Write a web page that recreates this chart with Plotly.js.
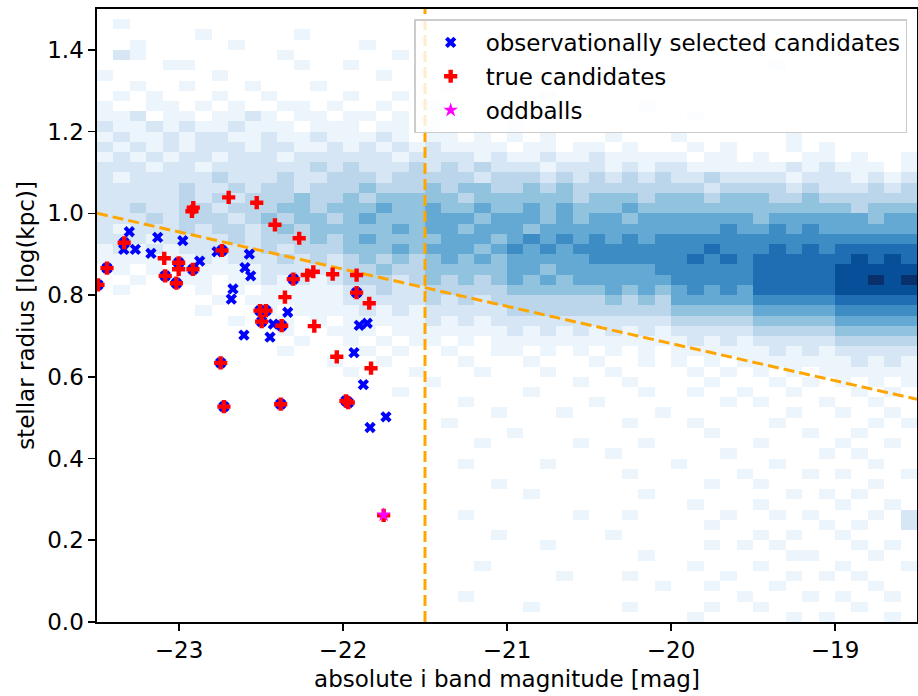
<!DOCTYPE html>
<html>
<head>
<meta charset="utf-8">
<script src="https://cdn.plot.ly/plotly-3.0.1.min.js"></script>
<style>html,body{margin:0;padding:0;background:#fff;}#chart{width:918px;height:696px;}</style>
</head>
<body>
<div id="chart"></div>
<script>
// ---- 2D histogram (galaxy population), bin centres ----
const magBins = [-23.45,-23.35,-23.25,-23.15,-23.05,-22.95,-22.85,-22.75,-22.65,-22.55,
  -22.45,-22.35,-22.25,-22.15,-22.05,-21.95,-21.85,-21.75,-21.65,-21.55,
  -21.45,-21.35,-21.25,-21.15,-21.05,-20.95,-20.85,-20.75,-20.65,-20.55,
  -20.45,-20.35,-20.25,-20.15,-20.05,-19.95,-19.85,-19.75,-19.65,-19.55,
  -19.45,-19.35,-19.25,-19.15,-19.05,-18.95,-18.85,-18.75,-18.65,-18.55];
// radius bin centres, top row first
const radiusBins = [1.4875,1.4625,1.4375,1.4125,1.3875,1.3625,1.3375,1.3125,1.2875,1.2625,
  1.2375,1.2125,1.1875,1.1625,1.1375,1.1125,1.0875,1.0625,1.0375,1.0125,
  0.9875,0.9625,0.9375,0.9125,0.8875,0.8625,0.8375,0.8125,0.7875,0.7625,
  0.7375,0.7125,0.6875,0.6625,0.6375,0.6125,0.5875,0.5625,0.5375,0.5125,
  0.4875,0.4625,0.4375,0.4125,0.3875,0.3625,0.3375,0.3125,0.2875,0.2625,
  0.2375,0.2125,0.1875,0.1625,0.1375,0.1125,0.0875,0.0625,0.0375,0.0125];
// density level per cell (0 = empty), one string per radius row, top row first
const densityRows = [
"00000 00000 00000 00000 00000 00000 00000 00000 00000 00000",
"01000 00000 00000 00000 00000 00000 00000 00000 00000 00000",
"00000 01000 00100 00000 00000 00000 00000 00000 00000 00000",
"00100 00010 00000 01000 00000 00000 00000 00000 00000 00000",
"02100 00000 01000 00010 00000 00000 00100 00000 00000 00000",
"00001 10000 00100 10000 00000 00000 00000 00000 01000 00000",
"10000 00100 00000 00100 00000 00000 00000 00000 00000 00000",
"00100 10001 00010 00000 01000 00000 00000 00000 00000 00000",
"01010 00100 10000 10010 00000 00100 00000 00000 00000 00000",
"10011 01010 01101 00100 10000 00000 00010 00000 00000 00000",
"11201 10112 10110 11010 01001 00000 00000 01000 00000 00000",
"21121 21121 11011 10110 10000 10000 00000 00000 00000 00000",
"12112 12211 21121 11210 11010 10100 01000 10000 00100 00000",
"21212 12221 22112 12121 21111 01101 10100 01010 00101 00000",
"12121 22122 21222 22212 22212 11211 21111 10110 10011 01001",
"22212 21222 22232 32223 23232 22122 21212 21111 11212 11101",
"21222 22322 23223 33233 33323 33232 32323 22322 22122 21212",
"22222 32232 33233 34333 43443 34343 33333 33233 33232 22323",
"22222 32323 33433 43444 44344 44443 44434 44344 43343 33333",
"22322 33233 34434 44544 54454 45454 44544 44444 44444 43444",
"22232 33323 43443 45444 55545 55454 55455 55555 45555 55455",
"21222 32332 34344 44454 55455 54555 55555 55565 56565 55555",
"22212 22232 33343 45444 45554 56565 65656 66666 66666 66666",
"12121 22222 32333 44454 55545 65656 66666 66766 67676 77777",
"11111 12122 23232 34343 45454 55555 66666 67676 77777 78787",
"01010 11111 22222 33433 44444 55455 55556 66666 77777 88888",
"00100 11011 21212 33323 43434 54545 55555 66666 77777 88989",
"01000 01010 11111 22322 33333 44444 45454 56565 77777 88888",
"00000 00101 11111 22222 32323 33333 34343 55555 66666 77777",
"00000 01000 10111 12121 22222 33333 33333 44444 55555 66666",
"00000 00010 01010 11111 21212 22222 22222 33333 44444 55555",
"00000 00000 01001 11011 11111 21212 12121 22222 33333 44444",
"00000 00000 00100 10101 10101 11111 11111 12121 22222 33333",
"00000 00000 01000 01010 01001 10101 01010 11111 12121 22222",
"00000 00000 00001 00100 00100 01000 10010 10101 11111 12121",
"00000 00000 00000 10001 00010 00100 01000 01010 10101 11111",
"00000 00000 00000 00000 10000 00001 00100 00100 01010 10101",
"00000 00000 00000 00010 00000 01000 00010 01001 00100 01010",
"00000 00000 00000 00000 00100 00000 10000 00010 10001 00100",
"00000 00000 00000 00000 00001 00010 00001 00000 00100 10010",
"00000 00000 00000 00000 01000 00000 00100 01000 01000 00101",
"00000 00000 00000 00000 00000 10000 00000 00100 00010 01000",
"00000 00000 00000 00000 00010 00001 00010 00000 10000 10010",
"00000 00000 00000 00000 00000 00000 01000 00010 00001 01000",
"00000 00000 00000 00000 00100 00100 00000 10000 01000 00100",
"00000 00000 00000 00000 00000 00000 00100 00001 00010 10001",
"00000 00000 00000 00000 00001 00000 00000 00100 10000 00100",
"00000 00000 00000 00000 00000 01000 00010 00000 00101 01000",
"00000 00000 00000 00000 00000 00000 00000 01000 10000 10010",
"00000 00000 00000 00000 00100 00001 00100 00010 01010 00102",
"00000 00000 00000 00000 00000 00000 00000 00100 00001 01002",
"00000 00000 00000 00000 00001 00000 01000 00000 10100 10000",
"00000 00000 00000 00000 00000 00100 00000 00101 01000 01010",
"00000 00000 00000 00000 00000 00000 00010 00000 00110 00100",
"00000 00000 00000 00000 00010 00000 00000 01000 10000 10001",
"00000 00000 00000 00000 00000 00010 00100 00010 00101 01000",
"00000 00000 00000 00000 00000 00000 00001 00100 01000 00100",
"00000 00000 00000 00000 00100 00000 00000 00001 00010 10010",
"00000 00000 00000 00000 00000 01000 00100 00100 10000 01000",
"00000 00000 00000 00000 00000 00000 00000 01000 00101 00010"
];

// ---- observationally selected candidates (blue x) ----
const obsMag = [-23.494,-23.439,-23.334,-23.084,-23.002,-23.016,-22.915,-22.738,-22.303,-21.917,
  -22.506,-22.470,-22.496,-22.374,-22.746,-22.726,-22.380,-21.982,-21.968,
  -23.303,-23.337,-23.266,-23.130,-23.171,-22.977,-22.874,-22.768,-22.571,-22.598,
  -22.563,-22.671,-22.681,-22.425,-22.337,-22.445,-22.604,-21.901,-21.852,-21.933,
  -21.876,-21.738,-21.835];
const obsRad = [0.825,0.866,0.928,0.847,0.879,0.829,0.863,0.909,0.839,0.806,
  0.762,0.762,0.735,0.725,0.634,0.527,0.533,0.541,0.537,
  0.955,0.912,0.912,0.941,0.902,0.933,0.883,0.906,0.900,0.867,
  0.847,0.815,0.790,0.729,0.758,0.697,0.702,0.726,0.731,0.659,
  0.581,0.502,0.476];

// ---- true candidates (red +) ----
const trueMag = [-23.494,-23.439,-23.334,-23.084,-23.002,-23.016,-22.915,-22.738,-22.303,-21.917,
  -22.506,-22.470,-22.496,-22.374,-22.746,-22.726,-22.380,-21.982,-21.968,
  -23.090,-23.002,-22.921,-22.913,-22.697,-22.526,-22.415,-22.267,-22.218,-22.181,
  -22.063,-21.917,-21.840,-22.354,-22.175,-22.038,-21.829,-21.752];
const trueRad = [0.825,0.866,0.928,0.847,0.879,0.829,0.863,0.909,0.839,0.806,
  0.762,0.762,0.735,0.725,0.634,0.527,0.533,0.541,0.537,
  0.890,0.863,1.005,1.014,1.039,1.026,0.972,0.939,0.849,0.857,
  0.851,0.849,0.780,0.795,0.724,0.649,0.621,0.261];

// ---- oddballs (magenta star) ----
const oddMag = [-21.752];
const oddRad = [0.262];

// ---- selection cuts (orange dashed) ----
const cutMag = -21.5;
const cutLineMag = [-23.5, -18.5];
const cutLineRad = [1.0, 0.545];

const xRange = [-23.5, -18.5];
const yRange = [0, 1.5];

// build heatmap table
const zRows = densityRows.map(r => r.replace(/ /g,'').split('').map(c => c === '0' ? null : Number(c)));
const z = zRows.slice().reverse();
const yCentres = radiusBins.slice().reverse();

const blues = [[0,'#f7fbff'],[0.125,'#deebf7'],[0.25,'#c6dbef'],[0.375,'#9ecae1'],
  [0.5,'#6baed6'],[0.625,'#4292c6'],[0.75,'#2171b5'],[0.875,'#08519c'],[1,'#08306b']];

const FONT = 'DejaVu Sans, Liberation Sans, sans-serif';
const FS = 23;

const traces = [
  {type:'heatmap', x: magBins, y: yCentres, z: z, colorscale: blues, zmin: 0.6, zmax: 9,
   showscale:false, hoverinfo:'skip', zsmooth:false, showlegend:false},
  {type:'scatter', mode:'lines', x:[cutMag, cutMag], y: yRange, showlegend:false, hoverinfo:'skip',
   line:{color:'#ffa500', width:3, dash:'11px,5px'}},
  {type:'scatter', mode:'lines', x: cutLineMag, y: cutLineRad, showlegend:false, hoverinfo:'skip',
   line:{color:'#ffa500', width:3, dash:'11px,5px'}},
  {type:'scatter', mode:'markers', x: obsMag, y: obsRad, name:'observationally selected candidates',
   legendgroup:'a', marker:{symbol:'x', size:10, color:'#0000ff', line:{width:0}}},
  {type:'scatter', mode:'markers', x: trueMag, y: trueRad, name:'true candidates',
   legendgroup:'b', marker:{symbol:'cross', size:11, color:'#ff0000', line:{width:0}}},
  {type:'scatter', mode:'markers', x: oddMag, y: oddRad, name:'oddballs',
   legendgroup:'c', marker:{symbol:'star', size:11, color:'#ff00ff', line:{width:0}}}
];

const axisCommon = {
  showgrid:false, zeroline:false, showline:true, mirror:true, linecolor:'#000', linewidth:1.6,
  ticks:'outside', ticklen:7, tickwidth:1.6, tickcolor:'#000',
  tickfont:{family:FONT, size:FS, color:'#000'}
};

const layout = {
  width:918, height:696,
  margin:{l:97, r:1, t:9, b:74},
  paper_bgcolor:'#fff', plot_bgcolor:'#fff',
  font:{family:FONT, size:FS, color:'#000'},
  xaxis: Object.assign({}, axisCommon, {range: xRange, tickvals:[-23,-22,-21,-20,-19],
    title:{text:'absolute i band magnitude [mag]', font:{family:FONT, size:FS, color:'#000'}, standoff:8}}),
  yaxis: Object.assign({}, axisCommon, {range: yRange, tickvals:[0,0.2,0.4,0.6,0.8,1.0,1.2,1.4], tickformat:'.1f',
    title:{text:'stellar radius [log(kpc)]', font:{family:FONT, size:FS, color:'#000'}, standoff:6}}),
  legend:{x:0.988, y:0.983, xanchor:'right', yanchor:'top', bgcolor:'rgba(255,255,255,0.8)',
    bordercolor:'#cccccc', borderwidth:1.5, font:{family:FONT, size:FS, color:'#000'},
    tracegroupgap:1, itemwidth:60},
  showlegend:true
};

Plotly.newPlot('chart', traces, layout, {displayModeBar:false, staticPlot:true});
</script>
</body>
</html>
